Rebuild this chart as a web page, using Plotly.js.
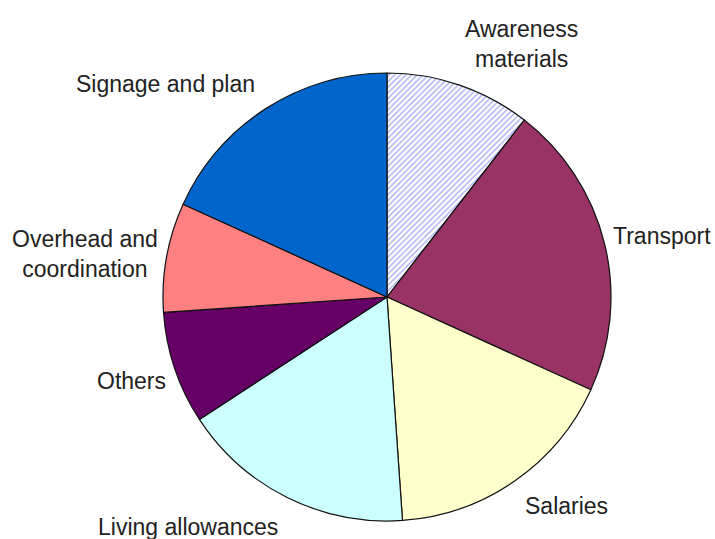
<!DOCTYPE html>
<html>
<head>
<meta charset="utf-8">
<script src="https://cdn.plot.ly/plotly-3.0.1.min.js"></script>
<style>html,body{margin:0;padding:0;background:#fff;}#chart{width:715px;height:539px;}</style>
</head>
<body>
<div id="chart"></div>
<script>
const categories = ["Awareness materials", "Transport", "Salaries", "Living allowances", "Others", "Overhead and coordination", "Signage and plan"];
const values = [10.5, 21.3, 17.1, 16.9, 8.1, 7.9, 18.2];
const labelTexts = ["Awareness<br>materials", "Transport", "Salaries", "Living allowances", "Others", "Overhead and<br>coordination", "Signage and plan"];
const sliceColors = ["#ffffff", "#993366", "#ffffcc", "#ccffff", "#660066", "#ff8080", "#0066cc"];

const labelPos = [[521, 44], [662, 236], [566, 506], [188, 527], [131, 381], [85, 254], [165, 84]];

const W = 715, H = 539;
const cx = 387, cy = 297, R = 224;

const trace = {
  type: "pie",
  labels: categories,
  values: values,
  sort: false,
  direction: "clockwise",
  rotation: 0,
  textinfo: "none",
  hoverinfo: "label+percent",
  showlegend: false,
  domain: {x: [(cx - R) / W, (cx + R) / W], y: [1 - (cy + R) / H, 1 - (cy - R) / H]},
  marker: {
    colors: sliceColors,
    line: {color: "#111111", width: 1.2},
    pattern: {
      shape: ["/", "", "", "", "", "", ""],
      fgcolor: "#a9abf5",
      bgcolor: "#ffffff",
      size: 4,
      solidity: 0.35
    }
  }
};

const annotations = labelTexts.map((t, i) => ({
  text: t,
  x: labelPos[i][0] / W,
  y: 1 - labelPos[i][1] / H,
  xref: "paper", yref: "paper",
  xanchor: "center", yanchor: "middle",
  showarrow: false,
  align: "center",
  font: {family: "Liberation Sans, Arial, sans-serif", size: 23, color: "#222222"}
}));

const layout = {
  width: W, height: H,
  margin: {l: 0, r: 0, t: 0, b: 0},
  paper_bgcolor: "#ffffff",
  plot_bgcolor: "#ffffff",
  annotations: annotations
};

Plotly.newPlot("chart", [trace], layout, {displayModeBar: false, staticPlot: true});
</script>
</body>
</html>
